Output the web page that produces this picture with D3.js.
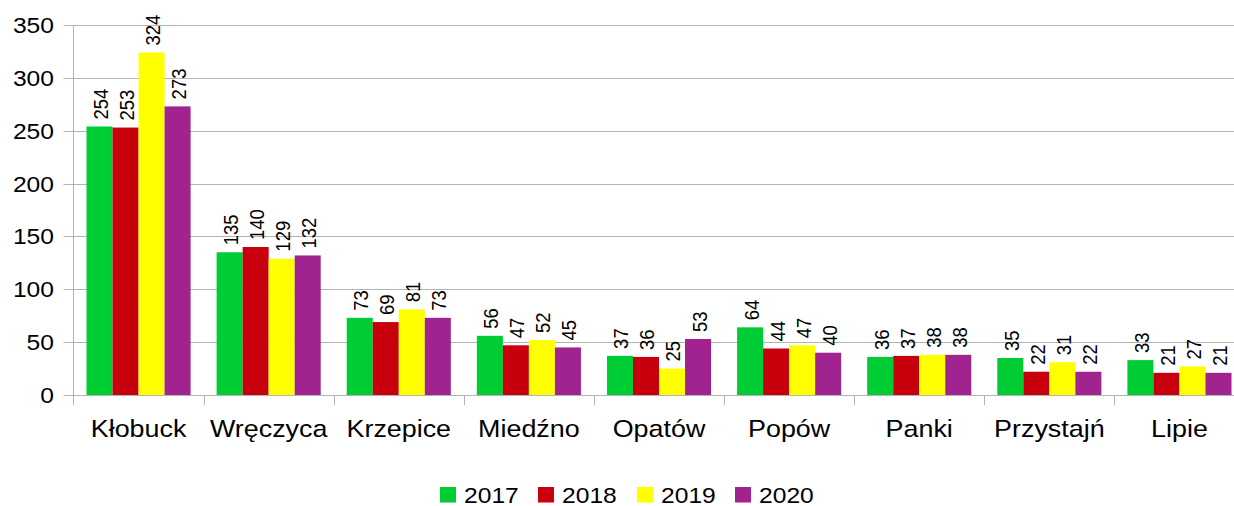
<!DOCTYPE html>
<html>
<head>
<meta charset="UTF-8">
<style>
  body { margin: 0; background: #fff; }
  svg { display: block; font-family: 'Liberation Sans', Arial, sans-serif; }
</style>
</head>
<body>
<svg id="chart" width="1234" height="506"></svg>
<script src="https://cdn.jsdelivr.net/npm/d3@7"></script>
<script>
const categories = ["Kłobuck", "Wręczyca", "Krzepice", "Miedźno", "Opatów", "Popów", "Panki", "Przystajń", "Lipie"];
const years = ["2017", "2018", "2019", "2020"];
const colors = ["#00cc33", "#c8000e", "#ffff00", "#a0238f"];
const values2017 = [254, 135, 73, 56, 37, 64, 36, 35, 33];
const values2018 = [253, 140, 69, 47, 36, 44, 37, 22, 21];
const values2019 = [324, 129, 81, 52, 25, 47, 38, 31, 27];
const values2020 = [273, 132, 73, 45, 53, 40, 38, 22, 21];
const yTicks = [0, 50, 100, 150, 200, 250, 300, 350];

const series = [values2017, values2018, values2019, values2020];

// the reference text is a little wider than tall
const stretch = 1.12;

const svg = d3.select("#chart");
const plotLeft = 73.5, plotRight = 1244.5, plotTop = 25, plotBottom = 395;

const x = d3.scaleBand().domain(categories).range([plotLeft, plotRight]).paddingInner(0.2).paddingOuter(0.1);
const x1 = d3.scaleBand().domain(years).range([0, x.bandwidth()]);
const y = d3.scaleLinear().domain([0, 350]).range([plotBottom, plotTop]);

// gridlines
svg.append("g")
  .selectAll("line")
  .data(yTicks)
  .join("line")
  .attr("x1", plotLeft - 10)
  .attr("x2", plotRight)
  .attr("y1", d => Math.round(y(d)) + 0.5)
  .attr("y2", d => Math.round(y(d)) + 0.5)
  .attr("stroke", "#b3b3b3")
  .attr("stroke-width", 1);

// y labels
svg.append("g")
  .selectAll("text")
  .data(yTicks)
  .join("text")
  .attr("transform", d => "translate(54," + y(d) + ") scale(" + stretch + ",1)")
  .attr("dy", "0.36em")
  .attr("text-anchor", "end")
  .attr("font-size", 22)
  .attr("fill", "#000")
  .text(d => d);

// bars
const rows = categories.map((c, i) => ({ cat: c, vals: series.map(s => s[i]) }));
const groups = svg.append("g")
  .selectAll("g")
  .data(rows)
  .join("g")
  .attr("transform", d => "translate(" + x(d.cat) + ",0)");

groups.selectAll("rect")
  .data(d => d.vals.map((v, k) => ({ year: years[k], v: v, k: k })))
  .join("rect")
  .attr("x", d => x1(d.year))
  .attr("width", x1.bandwidth())
  .attr("y", d => y(d.v))
  .attr("height", d => y(0) - y(d.v))
  .attr("fill", d => colors[d.k]);

groups.selectAll("text")
  .data(d => d.vals.map((v, k) => ({ year: years[k], v: v })))
  .join("text")
  .attr("transform", d => "translate(" + (x1(d.year) + x1.bandwidth() / 2 + 1) + "," + (y(d.v) - 7) + ") rotate(-90) scale(1," + stretch + ")")
  .attr("dy", "0.36em")
  .attr("font-size", 18.5)
  .attr("fill", "#000")
  .text(d => d.v);

// axes
svg.append("line")
  .attr("x1", plotLeft).attr("x2", plotLeft)
  .attr("y1", plotTop).attr("y2", plotBottom + 10)
  .attr("stroke", "#b3b3b3");
svg.append("line")
  .attr("x1", plotLeft).attr("x2", plotRight)
  .attr("y1", plotBottom + 0.5).attr("y2", plotBottom + 0.5)
  .attr("stroke", "#b3b3b3");

const step = x.step();
svg.append("g")
  .selectAll("line")
  .data(categories)
  .join("line")
  .attr("x1", d => Math.round(x(d) - step * 0.1) + 0.5)
  .attr("x2", d => Math.round(x(d) - step * 0.1) + 0.5)
  .attr("y1", plotBottom)
  .attr("y2", plotBottom + 10)
  .attr("stroke", "#b3b3b3");

// category labels
svg.append("g")
  .selectAll("text")
  .data(categories)
  .join("text")
  .attr("transform", d => "translate(" + (x(d) + x.bandwidth() / 2) + ",437) scale(" + stretch + ",1)")
  .attr("text-anchor", "middle")
  .attr("font-size", 24)
  .attr("fill", "#000")
  .text(d => d);

// legend
const legendX = [440, 538, 637, 735];
const legend = svg.append("g")
  .selectAll("g")
  .data(years)
  .join("g")
  .attr("transform", (d, i) => "translate(" + legendX[i] + ",487)");
legend.append("rect")
  .attr("width", 16).attr("height", 15.5)
  .attr("fill", (d, i) => colors[i]);
legend.append("text")
  .attr("transform", "translate(24,15.5) scale(" + stretch + ",1)")
  .attr("font-size", 22)
  .attr("fill", "#000")
  .text(d => d);
</script>
</body>
</html>
